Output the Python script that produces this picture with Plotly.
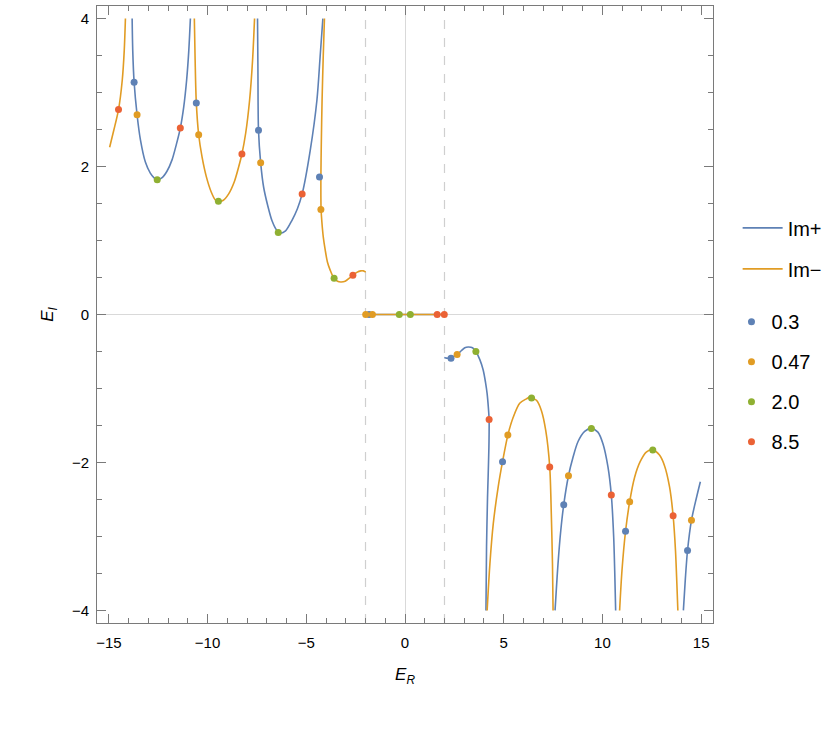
import plotly.graph_objects as go

# ---------------- data ----------------
# Im+ (blue) curve segments
imp_a_x = [-13.82, -13.79, -13.72, -13.57, -13.40, -13.15, -12.90, -12.72, -12.55, -12.30, -12.05, -11.80, -11.58, -11.38, -11.21, -11.06, -10.95, -10.87]
imp_a_y = [4.0, 3.57, 3.14, 2.70, 2.36, 2.06, 1.91, 1.85, 1.82, 1.85, 1.94, 2.09, 2.30, 2.52, 2.80, 3.17, 3.57, 4.0]
imp_b_x = [-7.47, -7.45, -7.42, -7.31, -7.16, -6.96, -6.74, -6.50, -6.30, -6.05, -5.73, -5.45, -5.21, -4.80, -4.46, -4.30, -4.16]
imp_b_y = [4.0, 3.35, 2.49, 2.05, 1.72, 1.48, 1.27, 1.14, 1.10, 1.13, 1.27, 1.43, 1.63, 2.22, 2.90, 3.48, 4.0]
imp_c_x = [-2.0, 2.0]
imp_c_y = [0.0, 0.0]
imp_d_x = [1.99, 2.11, 2.24, 2.44, 2.64, 2.85, 3.03, 3.20, 3.42, 3.59, 3.79, 3.96, 4.08, 4.16, 4.22, 4.26, 4.26, 4.25, 4.21, 4.18, 4.13, 4.10]
imp_d_y = [-0.58, -0.59, -0.59, -0.57, -0.54, -0.49, -0.45, -0.44, -0.45, -0.50, -0.61, -0.75, -0.92, -1.07, -1.25, -1.42, -1.60, -1.79, -2.20, -2.47, -3.14, -4.0]
imp_e_x = [7.60, 7.75, 7.89, 8.04, 8.28, 8.51, 8.76, 9.10, 9.44, 9.77, 10.03, 10.28, 10.45, 10.57, 10.63, 10.67]
imp_e_y = [-4.0, -3.37, -2.92, -2.57, -2.18, -1.93, -1.72, -1.58, -1.54, -1.59, -1.75, -2.06, -2.44, -3.01, -3.55, -4.0]
imp_f_x = [14.10, 14.20, 14.31, 14.51, 14.75, 14.96]
imp_f_y = [-4.0, -3.57, -3.19, -2.78, -2.49, -2.26]

# Im- (orange) curve segments
imm_a_x = [-14.96, -14.75, -14.51, -14.32, -14.22, -14.16]
imm_a_y = [2.26, 2.49, 2.77, 3.17, 3.57, 4.0]
imm_b_x = [-10.67, -10.63, -10.57, -10.45, -10.28, -10.06, -9.82, -9.61, -9.45, -9.22, -8.93, -8.65, -8.43, -8.26, -8.07, -7.87, -7.72, -7.62]
imm_b_y = [4.0, 3.44, 2.86, 2.43, 2.13, 1.86, 1.66, 1.55, 1.53, 1.54, 1.63, 1.79, 1.99, 2.17, 2.45, 2.90, 3.44, 4.0]
imm_c_x = [-4.08, -4.14, -4.20, -4.24, -4.26, -4.26, -4.25, -4.21, -4.14, -4.04, -3.93, -3.79, -3.62, -3.42, -3.25, -3.03, -2.78, -2.64, -2.44, -2.24, -2.11, -1.99]
imm_c_y = [4.0, 3.5, 2.9, 2.3, 1.86, 1.60, 1.42, 1.25, 1.05, 0.87, 0.71, 0.60, 0.50, 0.45, 0.44, 0.45, 0.50, 0.53, 0.57, 0.59, 0.59, 0.575]
imm_d_x = [-2.0, 2.0]
imm_d_y = [0.0, 0.0]
imm_e_x = [4.16, 4.30, 4.47, 4.72, 4.94, 5.21, 5.48, 5.81, 6.15, 6.30, 6.45, 6.66, 6.91, 7.13, 7.33, 7.41, 7.47, 7.50]
imm_e_y = [-4.0, -3.37, -2.83, -2.33, -1.99, -1.63, -1.39, -1.20, -1.14, -1.12, -1.13, -1.16, -1.30, -1.57, -2.06, -2.69, -3.37, -4.0]
imm_f_x = [10.87, 10.99, 11.17, 11.38, 11.63, 11.91, 12.22, 12.55, 12.89, 13.14, 13.40, 13.58, 13.70, 13.77, 13.82]
imm_f_y = [-4.0, -3.46, -2.93, -2.53, -2.20, -1.99, -1.86, -1.83, -1.90, -2.04, -2.33, -2.72, -3.19, -3.64, -4.0]

# marked points, one list pair per parameter value
pt_labels = ["0.3", "0.47", "2.0", "8.5"]
pts_03_x = [-13.72, -10.57, -7.42, -4.33, -1.82, 2.33, 4.94, 8.04, 11.17, 14.31]
pts_03_y = [3.14, 2.86, 2.49, 1.86, 0.0, -0.59, -1.99, -2.57, -2.93, -3.19]
pts_047_x = [-13.57, -10.45, -7.31, -4.26, -1.99, -1.65, 2.64, 5.21, 8.28, 11.38, 14.51]
pts_047_y = [2.70, 2.43, 2.05, 1.42, 0.0, 0.0, -0.54, -1.63, -2.18, -2.53, -2.78]
pts_20_x = [-12.55, -9.45, -6.42, -3.59, -0.29, 0.27, 3.59, 6.41, 9.44, 12.55]
pts_20_y = [1.82, 1.53, 1.11, 0.49, 0.0, 0.0, -0.50, -1.13, -1.54, -1.83]
pts_85_x = [-14.51, -11.38, -8.26, -5.21, -2.64, 1.63, 1.99, 4.26, 7.33, 10.45, 13.58]
pts_85_y = [2.77, 2.52, 2.17, 1.63, 0.53, 0.0, 0.0, -1.42, -2.06, -2.44, -2.72]

boundary_lines = [-2, 2]
x_range = [-15.6, 15.6]
y_range = [-4.17, 4.17]

# ---------------- styles ----------------
BLUE = "#5E81B5"
ORANGE = "#E19C24"
GREEN = "#8FB032"
RED = "#EB6235"
FRAME = "#7a7a7a"
FONT = "Liberation Sans, Arial, sans-serif"


def join(segs):
    xs, ys = [], []
    for sx, sy in segs:
        if xs:
            xs.append(None)
            ys.append(None)
        xs.extend(sx)
        ys.extend(sy)
    return xs, ys


impx, impy = join([(imp_a_x, imp_a_y), (imp_b_x, imp_b_y), (imp_c_x, imp_c_y),
                   (imp_d_x, imp_d_y), (imp_e_x, imp_e_y), (imp_f_x, imp_f_y)])
immx, immy = join([(imm_a_x, imm_a_y), (imm_b_x, imm_b_y), (imm_c_x, imm_c_y),
                   (imm_d_x, imm_d_y), (imm_e_x, imm_e_y), (imm_f_x, imm_f_y)])

fig = go.Figure()
fig.add_trace(go.Scatter(x=impx, y=impy, mode="lines", name="Im+",
                         line=dict(color=BLUE, width=1.6, shape="spline", smoothing=0.8),
                         legend="legend", legendgroup="a"))
fig.add_trace(go.Scatter(x=immx, y=immy, mode="lines", name="Im\u2212",
                         line=dict(color=ORANGE, width=1.6, shape="spline", smoothing=0.8),
                         legend="legend", legendgroup="b"))

for lab, xs, ys, col, g in [(pt_labels[0], pts_03_x, pts_03_y, BLUE, "c"),
                            (pt_labels[1], pts_047_x, pts_047_y, ORANGE, "d"),
                            (pt_labels[2], pts_20_x, pts_20_y, GREEN, "e"),
                            (pt_labels[3], pts_85_x, pts_85_y, RED, "f")]:
    fig.add_trace(go.Scatter(x=xs, y=ys, mode="markers", name=lab,
                             marker=dict(color=col, size=7),
                             legend="legend2", legendgroup=g))

for bx in boundary_lines:
    fig.add_shape(type="line", x0=bx, x1=bx, y0=0, y1=1, xref="x", yref="paper",
                  line=dict(color="#cfcfcf", width=1.2, dash="dash"), layer="below")

axis_common = dict(
    showline=True, linecolor=FRAME, linewidth=1, mirror="ticks",
    ticks="inside", ticklen=9, tickwidth=1, tickcolor=FRAME,
    showgrid=False, zeroline=True, zerolinecolor="#d9d9d9", zerolinewidth=1,
    tickfont=dict(family=FONT, size=15, color="black"),
)

fig.update_xaxes(range=x_range, tickmode="linear", tick0=0, dtick=5,
                 minor=dict(ticks="inside", ticklen=5, dtick=1, tickcolor=FRAME, showgrid=False),
                 title=dict(text="<i>E</i><sub><i>R</i></sub>", font=dict(family=FONT, size=17, color="black"), standoff=18),
                 ticklabelstandoff=6,
                 **axis_common)
fig.update_yaxes(range=y_range, tickmode="linear", tick0=0, dtick=2,
                 minor=dict(ticks="inside", ticklen=5, dtick=0.5, tickcolor=FRAME, showgrid=False),
                 title=dict(text="<i>E</i><sub><i>I</i></sub>", font=dict(family=FONT, size=17, color="black"), standoff=13),
                 ticklabelstandoff=4,
                 **axis_common)

fig.update_layout(
    width=840, height=730,
    margin=dict(l=97, r=127, t=6, b=107),
    plot_bgcolor="white", paper_bgcolor="white",
    font=dict(family=FONT, color="black"),
    legend=dict(x=1.04, y=0.672, xanchor="left", yanchor="top",
                font=dict(family=FONT, size=20, color="black"),
                traceorder="grouped", tracegroupgap=12, bgcolor="rgba(0,0,0,0)",
                itemwidth=40),
    legend2=dict(x=1.03, y=0.52, xanchor="left", yanchor="top",
                 font=dict(family=FONT, size=20, color="black"),
                 traceorder="grouped", tracegroupgap=11, bgcolor="rgba(0,0,0,0)"),
    showlegend=True,
)

fig.write_html("out.html")
